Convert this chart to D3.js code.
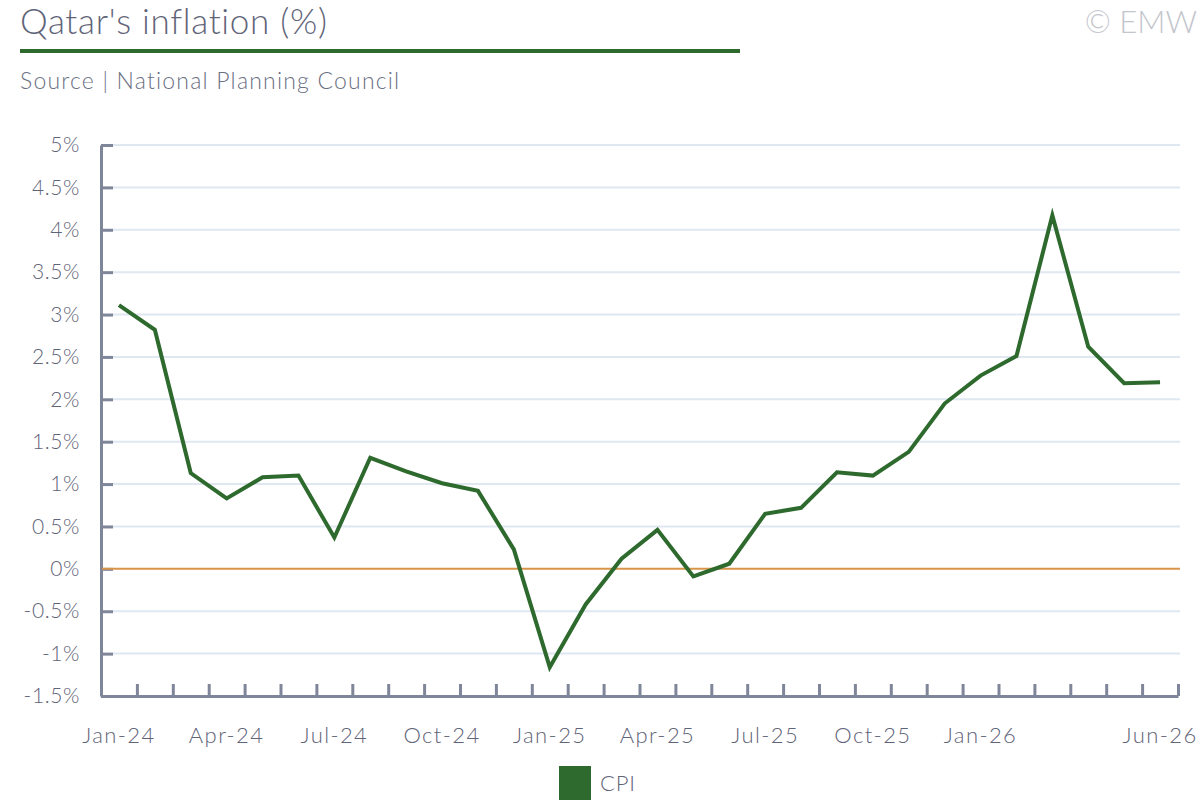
<!DOCTYPE html>
<html>
<head>
<meta charset="utf-8">
<script src="https://cdn.jsdelivr.net/npm/d3@7"></script>
<style>
  body { margin: 0; background: #fff; }
  svg { font-family: Lato, "Open Sans", sans-serif; }
</style>
</head>
<body>
<svg width="1200" height="800"></svg>
<script>
// data
const months = ['Jan-24','Feb-24','Mar-24','Apr-24','May-24','Jun-24','Jul-24','Aug-24','Sep-24','Oct-24','Nov-24','Dec-24',
                'Jan-25','Feb-25','Mar-25','Apr-25','May-25','Jun-25','Jul-25','Aug-25','Sep-25','Oct-25','Nov-25','Dec-25',
                'Jan-26','Feb-26','Mar-26','Apr-26','May-26','Jun-26'];
const cpi = [3.11, 2.82, 1.13, 0.83, 1.08, 1.10, 0.37, 1.31, 1.15, 1.01, 0.92, 0.23,
             -1.16, -0.42, 0.12, 0.46, -0.09, 0.06, 0.65, 0.72, 1.14, 1.10, 1.38, 1.95,
             2.28, 2.51, 4.17, 2.62, 2.19, 2.20];
const xLabels = ['Jan-24','Apr-24','Jul-24','Oct-24','Jan-25','Apr-25','Jul-25','Oct-25','Jan-26','Jun-26'];
const yTicks = [-1.5, -1, -0.5, 0, 0.5, 1, 1.5, 2, 2.5, 3, 3.5, 4, 4.5, 5];

function render() {
    const svg = d3.select('svg');
    const axisColor = '#7f8699';
    const textColor = '#5f6478';
    const green = '#2e6a2e';

    const x = d3.scaleBand() // 月份
        .domain(months)
        .range([101, 1178]);
    const xEdge = d3.scaleLinear() // 刻度在每個月份邊界
        .domain([0, months.length])
        .range([101, 1178]);
    const y = d3.scaleLinear()
        .domain([-1.5, 5])
        .range([696, 145]);

    // 標題
    svg.append('text')
        .text("Qatar's inflation (%)")
        .attr('x', 20).attr('y', 34)
        .attr('fill', textColor)
        .style('font-size', '35px').style('font-weight', 300)
        .style('letter-spacing', '0.7px');
    svg.append('rect')
        .attr('x', 20).attr('y', 49)
        .attr('width', 720).attr('height', 4)
        .attr('fill', green);
    svg.append('text')
        .text('Source | National Planning Council')
        .attr('x', 20).attr('y', 89)
        .attr('fill', '#6b7083')
        .style('font-size', '23px').style('font-weight', 300)
        .style('letter-spacing', '1.2px');
    svg.append('text')
        .text('© EMW')
        .attr('x', 1197).attr('y', 33)
        .attr('text-anchor', 'end')
        .attr('fill', '#c3c5cc')
        .style('font-size', '31px').style('font-weight', 300);

    // 格線
    svg.append('g')
        .selectAll('line')
        .data(yTicks.filter(d => d !== 0 && d !== -1.5))
        .enter()
        .append('line')
        .attr('x1', 113).attr('x2', 1180)
        .attr('y1', d => y(d)).attr('y2', d => y(d))
        .attr('stroke', '#dfe7f1')
        .attr('stroke-width', 2);

    // y 軸
    const yAxis = svg.append('g')
        .attr('transform', 'translate(101,0)')
        .call(d3.axisLeft(y).tickValues(yTicks).tickSize(-12).tickSizeOuter(0)
            .tickFormat(d => d + '%'));
    yAxis.select('.domain').attr('stroke', axisColor).attr('stroke-width', 3);
    yAxis.selectAll('.tick line').attr('stroke', axisColor).attr('stroke-width', 3);
    yAxis.selectAll('.tick text')
        .attr('x', -21)
        .attr('fill', textColor)
        .style('font-size', '21px').style('font-weight', 300)
        .style('letter-spacing', '0.6px')
        .style('font-family', 'Lato, sans-serif');

    // 零線
    svg.append('line')
        .attr('x1', 102).attr('x2', 1180)
        .attr('y1', y(0)).attr('y2', y(0))
        .attr('stroke', '#d8954a')
        .attr('stroke-width', 2);

    // x 軸
    const xAxis = svg.append('g')
        .attr('transform', 'translate(0,696)')
        .call(d3.axisBottom(xEdge).tickValues(d3.range(months.length + 1)).tickSize(-12).tickSizeOuter(0)
            .tickFormat(''));
    xAxis.select('.domain').attr('stroke', axisColor).attr('stroke-width', 3);
    xAxis.selectAll('.tick line').attr('stroke', axisColor).attr('stroke-width', 3);

    svg.append('g')
        .selectAll('text')
        .data(xLabels)
        .enter()
        .append('text')
        .text(d => d)
        .attr('x', d => x(d) + x.bandwidth() / 2)
        .attr('y', 743)
        .attr('text-anchor', 'middle')
        .attr('fill', textColor)
        .style('font-size', '22px').style('font-weight', 300)
        .style('letter-spacing', '1.4px');

    // 折線
    const line = d3.line()
        .x((d, i) => x(months[i]) + x.bandwidth() / 2)
        .y(d => y(d));
    svg.append('path')
        .datum(cpi)
        .attr('d', line)
        .attr('fill', 'none')
        .attr('stroke', green)
        .attr('stroke-width', 4)
        .attr('stroke-linejoin', 'miter');

    // 圖例
    svg.append('rect')
        .attr('x', 559).attr('y', 766)
        .attr('width', 32).attr('height', 34)
        .attr('fill', green);
    svg.append('text')
        .text('CPI')
        .attr('x', 600).attr('y', 791)
        .attr('fill', textColor)
        .style('font-size', '22px').style('font-weight', 300)
        .style('letter-spacing', '0.8px');
}

render();
</script>
</body>
</html>
